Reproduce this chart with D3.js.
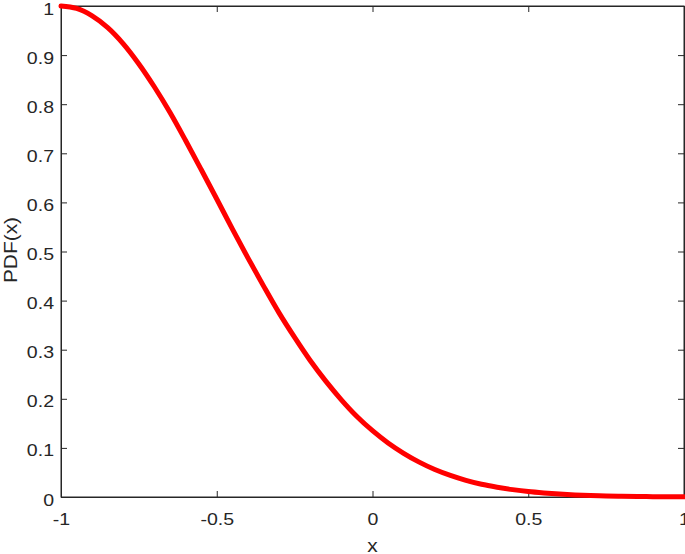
<!DOCTYPE html>
<html><head><meta charset="utf-8">
<script src="https://cdn.jsdelivr.net/npm/d3@7"></script>
<style>
html,body{margin:0;padding:0;background:#fff;}
svg{display:block;font-family:"Liberation Sans",Arial,sans-serif;}
</style></head>
<body>
<svg id="c" width="685" height="554"></svg>
<script>
const xValues = [-1.0,-0.95,-0.9,-0.85,-0.8,-0.75,-0.7,-0.65,-0.6,-0.55,-0.5,-0.45,-0.4,-0.35,-0.3,-0.25,-0.2,-0.15,-0.1,-0.05,
  0.0,0.05,0.1,0.15,0.2,0.25,0.3,0.35,0.4,0.45,0.5,0.55,0.6,0.65,0.7,0.75,0.8,0.85,0.9,0.95,1.0];
const pdfValues = [1.0,0.995,0.980,0.956,0.923,0.882,0.835,0.783,0.726,0.667,0.607,0.546,0.487,0.430,0.375,0.325,0.278,0.236,0.198,0.164,
  0.135,0.110,0.089,0.071,0.056,0.044,0.034,0.026,0.020,0.015,0.011,0.0082,0.006,0.0043,0.003,0.0022,0.0015,0.0011,0.0007,0.0005,0.0003];
const xTicks = [-1,-0.5,0,0.5,1];
const yTicks = [0,0.1,0.2,0.3,0.4,0.5,0.6,0.7,0.8,0.9,1];
const xLabel = "x";
const yLabel = "PDF(x)";

const svg = d3.select("#c");
const m = {left:61, right:684, top:6, bottom:497};
const x = d3.scaleLinear().domain([-1,1]).range([m.left,m.right]);
const y = d3.scaleLinear().domain([0,1]).range([m.bottom,m.top]);
const fmt = d => String(d);
const tl = 6;
const ink = "#262626";
const tickFont = 17, stretch = 1.15;

svg.append("rect").attr("x",m.left).attr("y",m.top).attr("width",m.right-m.left).attr("height",m.bottom-m.top)
  .attr("fill","none").attr("stroke",ink).attr("stroke-width",1);

const gx = svg.append("g").attr("transform",`translate(0,${m.bottom})`)
  .call(d3.axisBottom(x).tickValues(xTicks).tickFormat(fmt).tickSizeInner(-tl).tickSizeOuter(0));
const gxt = svg.append("g").attr("transform",`translate(0,${m.top})`)
  .call(d3.axisTop(x).tickValues(xTicks).tickFormat("").tickSizeInner(-tl).tickSizeOuter(0));
const gy = svg.append("g").attr("transform",`translate(${m.left},0)`)
  .call(d3.axisLeft(y).tickValues(yTicks).tickFormat(fmt).tickSizeInner(-tl).tickSizeOuter(0));
const gyr = svg.append("g").attr("transform",`translate(${m.right},0)`)
  .call(d3.axisRight(y).tickValues(yTicks).tickFormat("").tickSizeInner(-tl).tickSizeOuter(0));
[gx,gxt,gy,gyr].forEach(g=>{
  g.select(".domain").attr("stroke",ink);
  g.selectAll(".tick line").attr("stroke",ink);
  g.selectAll("text").attr("fill",ink).style("font-size",tickFont+"px")
    .style("font-family","'Liberation Sans',Arial,sans-serif");
});
gx.selectAll(".tick text").attr("y",0).attr("dy",0)
  .attr("transform",`translate(0,28) scale(${stretch},1)`);
gy.selectAll(".tick text").attr("x",0).attr("dy",0).attr("text-anchor","end")
  .attr("transform",`translate(-7,8) scale(${stretch},1)`);

const line = d3.line().x((d,i)=>x(xValues[i])).y(d=>y(d)).curve(d3.curveCatmullRom);
svg.append("path").datum(pdfValues).attr("d",line).attr("fill","none")
  .attr("stroke","#ff0000").attr("stroke-width",5).attr("stroke-linecap","round");

svg.append("text").attr("text-anchor","middle")
  .attr("transform",`translate(${(m.left+m.right)/2},552) scale(1.1,1)`)
  .attr("fill",ink).style("font-size","19px").text(xLabel);
svg.append("text").attr("text-anchor","middle")
  .attr("transform",`translate(16.5,250) rotate(-90) scale(1.1,1)`)
  .attr("fill",ink).style("font-size","19px").text(yLabel);
</script>
</body></html>
